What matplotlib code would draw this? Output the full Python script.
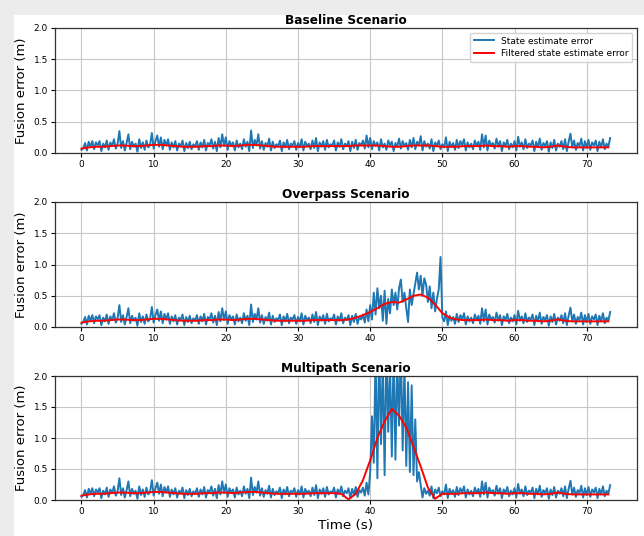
import numpy as np
import matplotlib
matplotlib.use("Agg")
import matplotlib.pyplot as plt
from matplotlib.patches import Rectangle

# ---------------------------------------------------------------------------
# Data
# ---------------------------------------------------------------------------
SAMPLE_PERIOD = 0.25          # s, raw error samples
N_SAMPLES = 294               # 0 .. 73.25 s

# Raw state estimate error (m), nominal conditions
state_error_baseline = [
    0.05, 0.08, 0.16, 0.04, 0.18, 0.10, 0.19, 0.06, 0.17, 0.12, 0.19, 0.03, 0.15, 0.09, 0.20, 0.05, 0.17, 0.11, 0.22, 0.07,
    0.14, 0.35, 0.08, 0.19, 0.04, 0.16, 0.30, 0.06, 0.18, 0.10, 0.15, 0.02, 0.22, 0.08, 0.17, 0.05, 0.20, 0.09, 0.13, 0.32,
    0.07, 0.19, 0.28, 0.10, 0.25, 0.06, 0.21, 0.12, 0.22, 0.05, 0.17, 0.09, 0.19, 0.04, 0.15, 0.11, 0.20, 0.03, 0.16, 0.08,
    0.18, 0.06, 0.14, 0.10, 0.19, 0.05, 0.17, 0.09, 0.21, 0.04, 0.16, 0.12, 0.22, 0.07, 0.18, 0.03, 0.24, 0.09, 0.30, 0.11,
    0.25, 0.05, 0.19, 0.12, 0.17, 0.04, 0.20, 0.09, 0.15, 0.06, 0.22, 0.10, 0.18, 0.03, 0.36, 0.08, 0.21, 0.12, 0.30, 0.07,
    0.19, 0.05, 0.16, 0.10, 0.23, 0.04, 0.18, 0.08, 0.14, 0.11, 0.20, 0.03, 0.17, 0.09, 0.21, 0.06, 0.15, 0.12, 0.19, 0.05,
    0.16, 0.09, 0.22, 0.04, 0.18, 0.11, 0.15, 0.06, 0.20, 0.08, 0.24, 0.03, 0.17, 0.10, 0.19, 0.05, 0.21, 0.09, 0.14, 0.12,
    0.20, 0.04, 0.17, 0.10, 0.22, 0.06, 0.15, 0.11, 0.19, 0.03, 0.18, 0.08, 0.21, 0.05, 0.16, 0.12, 0.20, 0.07, 0.28, 0.09,
    0.24, 0.06, 0.19, 0.11, 0.17, 0.04, 0.22, 0.09, 0.15, 0.05, 0.20, 0.12, 0.18, 0.03, 0.16, 0.10, 0.23, 0.07, 0.19, 0.11,
    0.16, 0.05, 0.21, 0.09, 0.24, 0.06, 0.18, 0.12, 0.27, 0.04, 0.19, 0.10, 0.15, 0.07, 0.22, 0.03, 0.17, 0.11, 0.20, 0.06,
    0.14, 0.09, 0.25, 0.03, 0.18, 0.10, 0.16, 0.05, 0.21, 0.08, 0.19, 0.12, 0.22, 0.04, 0.17, 0.09, 0.15, 0.06, 0.20, 0.11,
    0.18, 0.05, 0.30, 0.09, 0.28, 0.04, 0.20, 0.12, 0.16, 0.07, 0.23, 0.10, 0.19, 0.03, 0.17, 0.11, 0.21, 0.06, 0.15, 0.09,
    0.19, 0.04, 0.26, 0.10, 0.17, 0.06, 0.22, 0.08, 0.15, 0.12, 0.20, 0.03, 0.18, 0.09, 0.23, 0.05, 0.16, 0.11, 0.19, 0.02,
    0.17, 0.08, 0.21, 0.04, 0.15, 0.10, 0.19, 0.06, 0.22, 0.03, 0.18, 0.31, 0.09, 0.20, 0.05, 0.16, 0.11, 0.23, 0.04, 0.19,
    0.08, 0.21, 0.05, 0.17, 0.12, 0.20, 0.03, 0.18, 0.09, 0.22, 0.06, 0.15, 0.10, 0.24,
]

# Overpass segment, samples from 40.00 s to 50.00 s
OVERPASS_START = 40.0
state_error_overpass_seg = [
    0.35, 0.12, 0.55, 0.20, 0.62, 0.30, 0.50, 0.10, 0.58, 0.05,
    0.45, 0.22, 0.60, 0.35, 0.55, 0.28, 0.62, 0.76, 0.40, 0.55,
    0.30, 0.08, 0.60, 0.35, 0.52, 0.70, 0.87, 0.60, 0.82, 0.50,
    0.78, 0.68, 0.40, 0.65, 0.30, 0.55, 0.25, 0.45, 0.60, 1.12,
    0.15,
]

# Multipath segment, samples from 40.00 s to 47.00 s
MULTIPATH_START = 40.0
state_error_multipath_seg = [
    0.45, 1.35, 0.60, 2.40, 0.35, 2.60, 0.90, 2.30, 0.40, 2.50,
    1.10, 2.20, 0.70, 2.45, 0.65, 2.30, 1.20, 2.50, 0.80, 2.20,
    0.55, 1.90, 0.45, 1.85, 0.40, 1.30, 0.30, 0.45, 0.25,
]

# Filtered error (m), one value per second, 0 .. 73 s
filtered_baseline = [
    0.07, 0.09, 0.10, 0.10, 0.11, 0.12, 0.12, 0.11, 0.11, 0.12,
    0.13, 0.13, 0.12, 0.11, 0.10, 0.10, 0.10, 0.11, 0.11, 0.12,
    0.12, 0.11, 0.12, 0.13, 0.13, 0.12, 0.11, 0.10, 0.10, 0.10,
    0.10, 0.10, 0.11, 0.11, 0.11, 0.11, 0.11, 0.11, 0.12, 0.12,
    0.12, 0.12, 0.11, 0.10, 0.10, 0.11, 0.12, 0.12, 0.12, 0.11,
    0.10, 0.10, 0.10, 0.11, 0.11, 0.11, 0.12, 0.11, 0.11, 0.10,
    0.11, 0.11, 0.10, 0.10, 0.09, 0.10, 0.12, 0.10, 0.09, 0.09,
    0.09, 0.09, 0.09, 0.09,
]
FILT_OVERPASS_START = 37      # s
filtered_overpass_seg = [0.12, 0.15, 0.19, 0.24, 0.30, 0.37, 0.40, 0.39, 0.44,
                         0.50, 0.52, 0.47, 0.36, 0.22, 0.15, 0.12, 0.11]
FILT_MULTIPATH_START = 36     # s
filtered_multipath_seg = [0.10, 0.01, 0.10, 0.32, 0.64, 1.00, 1.27, 1.47, 1.36,
                          1.17, 0.86, 0.54, 0.20, 0.02, 0.10]

scenario_titles = ["Baseline Scenario", "Overpass Scenario", "Multipath Scenario"]
y_ticks = [0.0, 0.5, 1.0, 1.5, 2.0]
x_ticks = [0, 10, 20, 30, 40, 50, 60, 70]


def splice(base, seg, start, step):
    out = np.array(base, dtype=float)
    i0 = int(round(start / step))
    out[i0:i0 + len(seg)] = seg
    return out


t_raw = np.arange(N_SAMPLES) * SAMPLE_PERIOD
t_filt = np.arange(len(filtered_baseline), dtype=float)

raw_series = [
    np.array(state_error_baseline),
    splice(state_error_baseline, state_error_overpass_seg, OVERPASS_START, SAMPLE_PERIOD),
    splice(state_error_baseline, state_error_multipath_seg, MULTIPATH_START, SAMPLE_PERIOD),
]
filt_series = [
    np.array(filtered_baseline),
    splice(filtered_baseline, filtered_overpass_seg, FILT_OVERPASS_START, 1.0),
    splice(filtered_baseline, filtered_multipath_seg, FILT_MULTIPATH_START, 1.0),
]

# ---------------------------------------------------------------------------
# Figure
# ---------------------------------------------------------------------------
W, H = 644, 536
fig = plt.figure(figsize=(W / 100, H / 100), dpi=100, facecolor="#ececec")
fig.patches.append(Rectangle((14 / W, 0), 1 - 14 / W, 1 - 15 / H,
                             transform=fig.transFigure, facecolor="white",
                             edgecolor="none", zorder=-5))

left, width = 55 / W, 582 / W
rows = [(28, 153), (202, 327), (376, 500)]

for k, (top, bottom) in enumerate(rows):
    ax = fig.add_axes([left, 1 - bottom / H, width, (bottom - top) / H])
    ax.set_facecolor("white")
    ax.plot(t_raw, raw_series[k], color="#1f77b4", lw=1.4,
            label="State estimate error")
    ax.plot(t_filt, filt_series[k], color="red", lw=1.4,
            label="Filtered state estimate error")
    ax.set_ylim(0, 2.0)
    ax.set_xlim(-3.67, 76.97)
    ax.set_yticks(y_ticks)
    ax.set_xticks(x_ticks)
    ax.grid(True, color="#c8c8c8", lw=0.8)
    ax.set_axisbelow(True)
    ax.tick_params(labelsize=6.5, length=3, width=0.8, pad=2)
    for s in ax.spines.values():
        s.set_linewidth(0.9)
        s.set_color("#333333")
    ax.set_title(scenario_titles[k], fontsize=8.7, fontweight="bold", pad=3)
    ax.set_ylabel("Fusion error (m)", fontsize=9.5, labelpad=4)
    if k == 0:
        ax.legend(loc="upper right", fontsize=6.5, handlelength=2.2,
                  borderpad=0.45, labelspacing=0.35, framealpha=0.85)
    if k == 2:
        ax.set_xlabel("Time (s)", fontsize=9.7, labelpad=2)

fig.savefig("out.png", dpi=100, facecolor=fig.get_facecolor())
